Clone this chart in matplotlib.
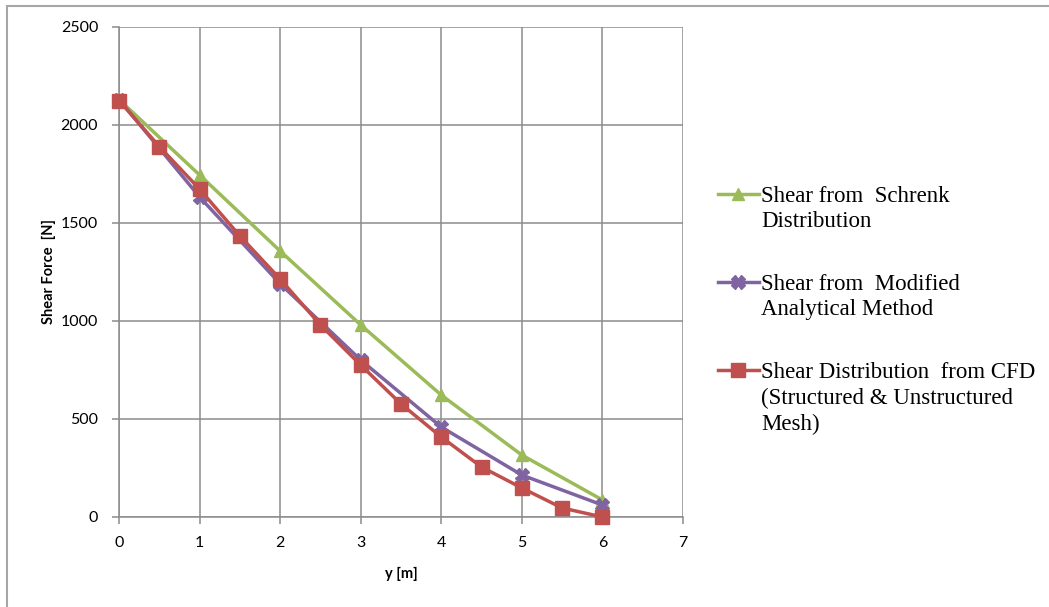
import matplotlib
matplotlib.use("Agg")
import matplotlib.pyplot as plt
from matplotlib.patches import Rectangle

# values
y_schrenk = [0, 1, 2, 3, 4, 5, 6]
shear_schrenk = [2130, 1745, 1357, 980, 622, 316, 87]

y_modified = [0, 1, 2, 3, 4, 5, 6]
shear_modified = [2130, 1633, 1190, 801, 459, 214, 61]

y_cfd = [0, 0.5, 1, 1.5, 2, 2.5, 3, 3.5, 4, 4.5, 5, 5.5, 6]
shear_cfd = [2125, 1890, 1673, 1434, 1214, 980, 775, 577, 408, 255, 148, 46, 0]

labels = [
    "Shear from  Schrenk\nDistribution",
    "Shear from  Modified\nAnalytical Method",
    "Shear Distribution  from CFD\n(Structured & Unstructured\nMesh)",
]

GREEN = "#9BBB59"
PURPLE = "#8064A2"
RED = "#C0504D"
GRID = "#8C8C8C"

fig = plt.figure(figsize=(10.49, 6.07), dpi=100)
# outer chart frame (only top and left edges fall inside the image)
fig.patches.append(Rectangle((7 / 1049, -0.1), 1.2, 1.1 - 6 / 607,
                             transform=fig.transFigure, fill=False,
                             edgecolor="#A6A6A6", linewidth=1.5))
ax = fig.add_axes([119 / 1049, 90 / 607, 564 / 1049, 490 / 607])

ax.plot(y_schrenk, shear_schrenk, color=GREEN, lw=2.5, marker="^", ms=9,
        label=labels[0], zorder=3, clip_on=False)
ax.plot(y_modified, shear_modified, color=PURPLE, lw=2.5, marker="X", ms=10,
        label=labels[1], zorder=4, clip_on=False)
ax.plot(y_cfd, shear_cfd, color=RED, lw=2.5, marker="s", ms=10,
        label=labels[2], zorder=5, clip_on=False)

ax.set_xlim(0, 7)
ax.set_ylim(0, 2500)
ax.set_xticks(range(0, 8))
ax.set_yticks(range(0, 2501, 500))
ax.grid(True, color=GRID, linewidth=1.1)
ax.set_axisbelow(True)
for side in ["top", "right"]:
    ax.spines[side].set_visible(False)
for side in ["left", "bottom"]:
    ax.spines[side].set_color(GRID)
    ax.spines[side].set_linewidth(1.1)
ax.tick_params(direction="out", length=5, color=GRID, width=1.1, labelsize=11.5)
ax.tick_params(axis="x", pad=9)
ax.tick_params(axis="y", pad=10)
for lab in ax.get_xticklabels() + ax.get_yticklabels():
    lab.set_fontfamily("Lato")

ax.set_xlabel("y [m]", fontfamily="Lato", fontweight="bold", fontsize=10.5, labelpad=12)
ax.set_ylabel("Shear Force  [N]", fontfamily="Lato", fontweight="bold", fontsize=10.5, labelpad=3)

leg = ax.legend(loc="upper left", bbox_to_anchor=(697 / 1049, 442 / 607),
                bbox_transform=fig.transFigure, frameon=False,
                prop={"family": "Liberation Serif", "size": 16.5},
                handlelength=1.8, handletextpad=0.1, labelspacing=1.8)
for txt in leg.get_texts():
    txt.set_linespacing(1.3)
# put each legend key next to the first line of its label
for column in leg._legend_handle_box.get_children():
    for item in column.get_children():
        item.align = "top"

fig.savefig("out.png", dpi=100)
